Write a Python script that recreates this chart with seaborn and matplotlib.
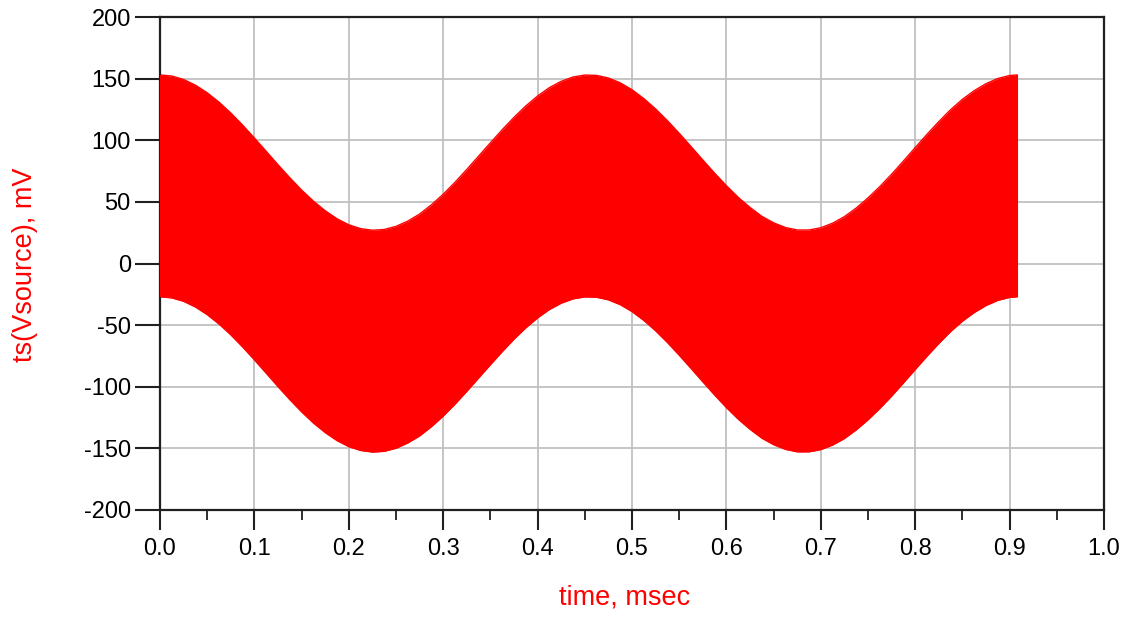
import matplotlib
matplotlib.use("Agg")
import matplotlib.pyplot as plt
import seaborn as sns
import pandas as pd
from matplotlib.ticker import MultipleLocator

# time samples (msec) and envelope of ts(Vsource) (mV)
time_ms = [0.0, 0.0125, 0.025, 0.0375, 0.05, 0.0625, 0.075, 0.0875, 0.1, 0.1125,
           0.125, 0.1375, 0.15, 0.1625, 0.175, 0.1875, 0.2, 0.2125, 0.225, 0.2375,
           0.25, 0.2625, 0.275, 0.2875, 0.3, 0.3125, 0.325, 0.3375, 0.35, 0.3625,
           0.375, 0.3875, 0.4, 0.4125, 0.425, 0.4375, 0.45, 0.4625, 0.475, 0.4875,
           0.5, 0.5125, 0.525, 0.5375, 0.55, 0.5625, 0.575, 0.5875, 0.6, 0.6125,
           0.625, 0.6375, 0.65, 0.6625, 0.675, 0.6875, 0.7, 0.7125, 0.725, 0.7375,
           0.75, 0.7625, 0.775, 0.7875, 0.8, 0.8125, 0.825, 0.8375, 0.85, 0.8625,
           0.875, 0.8875, 0.9, 0.908]
upper_mv = [153.0, 152.1, 149.3, 144.7, 138.5, 130.9, 122.1, 112.3, 101.8, 91.0,
            80.1, 69.6, 59.6, 50.6, 42.8, 36.3, 31.4, 28.3, 27.0, 27.6,
            30.1, 34.4, 40.1, 47.6, 56.2, 65.9, 76.3, 87.1, 97.9, 108.5,
            118.6, 127.8, 135.9, 142.7, 147.8, 151.3, 152.9, 152.6, 150.5, 146.6,
            141.0, 133.8, 125.4, 115.9, 105.6, 94.9, 84.0, 73.3, 63.1, 53.7,
            45.5, 38.3, 33.0, 29.2, 27.2, 27.2, 29.0, 32.7, 38.0, 45.0,
            53.2, 62.4, 72.4, 83.1, 94.0, 104.8, 115.1, 124.8, 133.2, 140.2,
            145.9, 150.1, 152.5, 153.0]
lower_mv = [-27.0, -27.9, -30.7, -35.3, -41.5, -49.1, -57.9, -67.7, -78.2, -89.0,
            -99.9, -110.4, -120.4, -129.4, -137.2, -143.7, -148.6, -151.7, -153.0, -152.4,
            -149.9, -145.6, -139.9, -132.4, -123.8, -114.1, -103.7, -92.9, -82.1, -71.5,
            -61.4, -52.2, -44.1, -37.3, -32.2, -28.7, -27.1, -27.4, -29.5, -33.4,
            -39.0, -46.2, -54.6, -64.1, -74.4, -85.1, -96.0, -106.7, -116.9, -126.3,
            -134.5, -141.7, -147.0, -150.8, -152.8, -152.8, -151.0, -147.3, -142.0, -135.0,
            -126.8, -117.6, -107.6, -96.9, -86.0, -75.2, -64.9, -55.2, -46.8, -39.8,
            -34.1, -29.9, -27.5, -27.0]

x_ticks = [0.0, 0.1, 0.2, 0.3, 0.4, 0.5, 0.6, 0.7, 0.8, 0.9, 1.0]
y_ticks = [-200, -150, -100, -50, 0, 50, 100, 150, 200]

sns.set_theme(style="white")
plt.rcParams['font.family'] = ['Liberation Sans', 'DejaVu Sans']

fig = plt.figure(figsize=(11.29, 6.17), dpi=100)
ax = fig.add_axes([160/1129, 1-510/617, (1104-160)/1129, (510-17)/617])

df = pd.DataFrame({"t": time_ms * 2,
                   "v": upper_mv + lower_mv,
                   "edge": ["upper"] * len(time_ms) + ["lower"] * len(time_ms)})
sns.lineplot(data=df, x="t", y="v", units="edge", estimator=None,
             color="#ff0000", lw=1.0, ax=ax, legend=False, sort=False)
ax.fill_between(time_ms, lower_mv, upper_mv, color="#ff0000", lw=0, zorder=3)
ax.vlines([time_ms[0], time_ms[-1]], [lower_mv[0], lower_mv[-1]],
          [upper_mv[0], upper_mv[-1]], color="#ff0000", lw=1.5, zorder=3)

ax.set_xlim(0, 1.0)
ax.set_ylim(-200, 200)
ax.set_xticks(x_ticks)
ax.set_xticklabels([f"{v:.1f}" for v in x_ticks])
ax.xaxis.set_minor_locator(MultipleLocator(0.05))
ax.set_yticks(y_ticks)
ax.set_yticklabels([str(v) for v in y_ticks])

ax.grid(True, which="major", color="#c0c0c0", lw=1.3, zorder=0)
ax.set_axisbelow(True)
for s in ax.spines.values():
    s.set_visible(True)
    s.set_color("#202020")
    s.set_linewidth(1.6)

ax.tick_params(axis="x", which="major", direction="out", length=14.4, width=1.5,
               color="#202020", pad=6, labelsize=17, labelcolor="black", bottom=True)
ax.tick_params(axis="x", which="minor", direction="out", length=7.2, width=1.3,
               color="#202020", bottom=True)
ax.tick_params(axis="y", which="major", direction="out", length=18, width=1.5,
               color="#202020", pad=3, labelsize=17, labelcolor="black", left=True)

ax.set_xlabel("time, msec", color="#ff0000", fontsize=19.5)
ax.set_ylabel("ts(Vsource), mV", color="#ff0000", fontsize=19.5)
ax.xaxis.set_label_coords((625 - 160) / 944, -(598 - 510) / 493)
ax.yaxis.set_label_coords((25 - 160) / 944, (510 - 265) / 493)
ax.xaxis.label.set_va("center")
ax.yaxis.label.set_va("center")

fig.savefig("out.png", dpi=100)
